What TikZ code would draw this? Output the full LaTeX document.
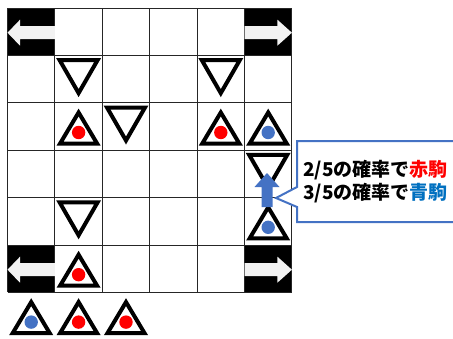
\documentclass[tikz,border=0pt]{standalone}
\usepackage{fontspec}
\newfontfamily\jpfont{Noto Sans CJK JP}

\definecolor{komablue}{HTML}{4472C4}
\definecolor{textblue}{HTML}{0070C0}
\definecolor{exitgray}{HTML}{F2F2F2}

\tikzset{
	gridline/.style={black!85, line width=1pt},
	koma/.style={black, line width=4pt},
	exitarrow/.style={fill=exitgray},
	callout/.style={draw=komablue, fill=white, line width=2pt},
}

\begin{document}
\begin{tikzpicture}[x=1pt, y=-1pt]
		\useasboundingbox (0, 0) rectangle (453, 338);
		\clip (0, 0) rectangle (453, 338);
		
		% exit squares
		\foreach \c/\r in {0/0, 5/0, 0/5, 5/5}
			\fill ({7.5+47.4*\c}, {8+47.4*\r}) rectangle +(47.4, 47.4);
		
		% board
		\foreach \i in {0,...,6} {
			\draw[gridline] ({7.5+47.4*\i}, 8) -- ++(0, 284.4);
			\draw[gridline] (7.5, {8+47.4*\i}) -- ++(284.4, 0);
		}
		
		% exit arrows (left ones, then right ones)
		\foreach \r in {0, 5} {
			\begin{scope}[shift={(7.5, {8+47.4*(\r+0.5)+1})}]
				\fill[exitarrow] (0, 0) -- (12.5, -13) -- (12.5, -6.5) -- (47.4, -6.5)
				-- (47.4, 6.5) -- (12.5, 6.5) -- (12.5, 13) -- cycle;
			\end{scope}
			\begin{scope}[shift={(291.9, {8+47.4*(\r+0.5)+1})}]
				\fill[exitarrow] (0, 0) -- (-14.5, -13) -- (-14.5, -6.5) -- (-47.4, -6.5)
				-- (-47.4, 6.5) -- (-14.5, 6.5) -- (-14.5, 13) -- cycle;
			\end{scope}
		}
		
		% own pieces (pointing up) with their colour
		\foreach \c/\r/\col in {1/2/red, 4/2/red, 5/2/komablue, 5/4/komablue, 1/5/red,
			0/6/komablue, 1/6/red, 2/6/red} {
			\begin{scope}[shift={({7.5+47.4*(\c+0.5)}, {8+47.4*(\r+0.5)})}]
				\draw[koma] (-18.5, 17) -- (18.5, 17) -- (0, -14) -- cycle;
				\fill[\col] (0, 6) circle (6.7);
			\end{scope}
		}
		
		% opponent pieces (pointing down)
		\foreach \c/\r in {1/1, 4/1, 2/2, 5/3, 1/4} {
			\begin{scope}[shift={({7.5+47.4*(\c+0.5)}, {8+47.4*(\r+0.5)})}]
				\draw[koma] (-19, -19) -- (19, -19) -- (0, 14) -- cycle;
			\end{scope}
		}
		
		% move of the blue piece
		\fill[komablue] (261.5, 207) -- (261.5, 187) -- (254.5, 187) -- (267, 173)
		-- (279.5, 187) -- (272.5, 187) -- (272.5, 207) -- cycle;
		
		% speech balloon
		\draw[callout] (460, 141) -- (297, 141) -- (297, 187) -- (276, 198)
		-- (297, 207) -- (297, 222) -- (460, 222);
		\node[anchor=north west, inner sep=0pt, align=left,
			font=\jpfont\bfseries\fontsize{19}{23}\selectfont] (prob) at (303, 160)
			{2/5の確率で\textcolor{red}{赤駒}\\3/5の確率で\textcolor{textblue}{青駒}};
	\end{tikzpicture}
\end{document}
